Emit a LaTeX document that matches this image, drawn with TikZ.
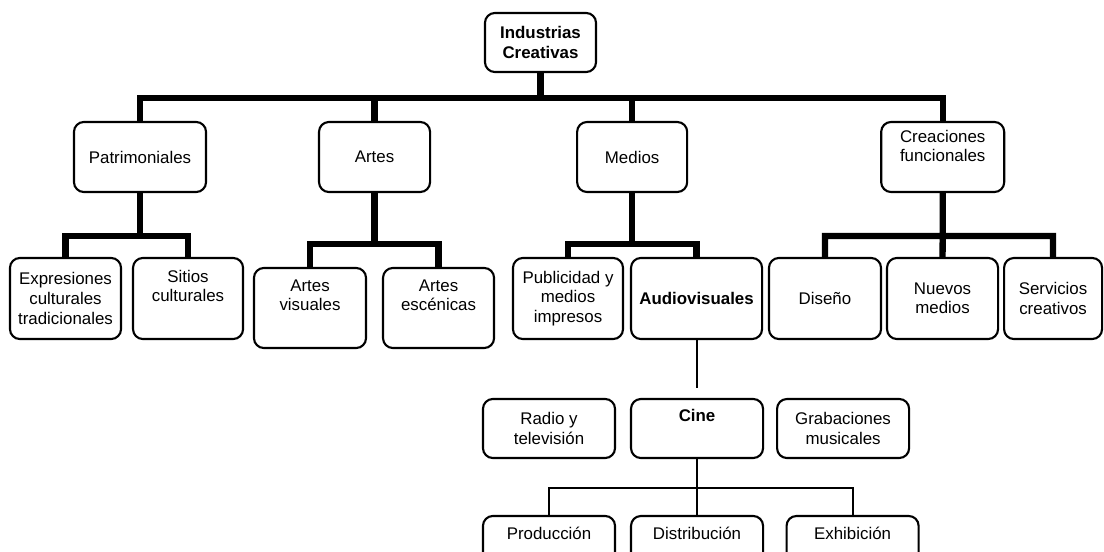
\documentclass[tikz,border=0pt]{standalone}
\usepackage{fontspec}
\setmainfont{Liberation Sans}
\usetikzlibrary{positioning}

\begin{document}
\begin{tikzpicture}[x=0.025cm,y=-0.025cm,on grid,
    box/.style={draw,line width=1.5pt,rounded corners=7pt,align=center,inner sep=2pt,
      font=\fontsize{12}{13.9}\selectfont},
    bold/.style={font=\fontsize{12}{13.9}\selectfont\bfseries},
    upper/.style={box,minimum width=2.775cm,minimum height=1.75cm},
    lower/.style={box,minimum width=2.775cm,minimum height=2.025cm},
    film/.style={box,minimum width=3.3cm,minimum height=1.475cm},
    trunk/.style={line width=4.5pt},
    twig/.style={line width=1.4pt}]
    \useasboundingbox (0,0) rectangle (1104,552);

    \node[box,bold,minimum width=2.775cm,minimum height=1.475cm] (ind) at (540.5,42.5) {Industrias\\Creativas};

    \node[upper,minimum width=3.3cm] (pat) at (140,157) {Patrimoniales};
    \node[upper] (art) [right=5.8625cm of pat] {Artes};
    \node[upper,minimum width=2.75cm] (med) [right=6.4375cm of art] {Medios};
    \node[upper,minimum width=3.075cm,text depth=0.55cm] (crea) [right=7.7625cm of med] {Creaciones\\funcionales};

    \node[lower] (exp) at (65.5,298.5) {Expresiones\\culturales\\tradicionales};
    \node[lower,minimum width=2.75cm] (sit) [right=3.0625cm of exp] {Sitios\\culturales\\\strut};
    \node[lower,minimum width=2.8cm,minimum height=2cm] (av) at (310,308) {Artes\\visuales\\\strut};
    \node[lower,minimum height=2cm] (ae) [right=3.2125cm of av] {Artes\\escénicas\\\strut};
    \node[lower,minimum width=2.75cm] (pub) at (568,298.5) {Publicidad y\\medios\\impresos};
    \node[lower,bold,minimum width=3.275cm] (aud) [right=3.2125cm of pub] {Audiovisuales};
    \node[lower,minimum width=2.8cm] (dis) at (825,298.5) {Diseño};
    \node[lower] (nue) [right=2.9375cm of dis] {Nuevos\\medios};
    \node[lower,minimum width=2.45cm] (ser) [right=2.7625cm of nue] {Servicios\\creativos};

    \node[film] (radio) at (549,428.5) {Radio y\\televisión};
    \node[film,bold] (cine) [right=3.7cm of radio] {Cine\\\strut};
    \node[film] (grab) [right=3.65cm of cine] {Grabaciones\\musicales};

    \node[film] (prod) at (549,545.5) {Producción\\\strut};
    \node[film] (dist) [right=3.7cm of prod] {Distribución\\\strut};
    \node[film] (exh) [right=3.8875cm of dist] {Exhibición\\\strut};

    \coordinate[below=0.625cm of ind.south] (j_ind);
    \coordinate[below=1.075cm of pat.south] (j_pat);
    \coordinate[below=1.275cm of art.south] (j_art);
    \coordinate[below=1.275cm of med.south] (j_med);
    \coordinate[below=1.075cm of crea.south] (j_crea);
    \coordinate[below=1.2cm of aud.south] (j_aud);
    \coordinate[below=0.725cm of cine.south] (j_cine);

    \draw[trunk] (ind.south) -- (j_ind)
        (pat.north) |- (j_ind) -| (crea.north)
        (art.north) -- (art.north |- j_ind)
        (med.north) -- (med.north |- j_ind);
    \draw[trunk] (pat.south) -- (j_pat) (exp.north) |- (j_pat) -| (sit.north);
    \draw[trunk] (art.south) -- (j_art) (av.north) |- (j_art) -| (ae.north);
    \draw[trunk] (med.south) -- (j_med) (pub.north) |- (j_med) -| (aud.north);
    \draw[trunk] (crea.south) -- (j_crea) (dis.north) |- (j_crea) -| (ser.north)
        (nue.north) -- (j_crea);
    \draw[twig] (aud.south) -- (j_aud);
    \draw[twig] (cine.south) -- (j_cine) (prod.north) |- (j_cine) -| (exh.north)
        (dist.north) -- (j_cine);
\end{tikzpicture}
\end{document}
